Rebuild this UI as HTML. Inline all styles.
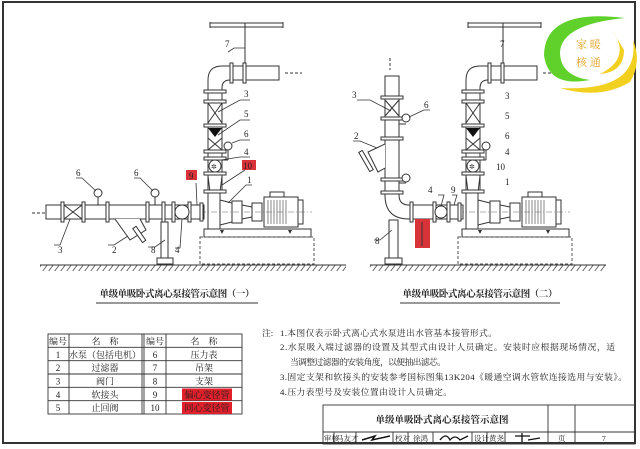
<!DOCTYPE html>
<html><head><meta charset="utf-8"><style>
html,body{margin:0;padding:0;background:#fff}
svg{display:block}
text{font-family:"Liberation Serif","Noto Serif CJK SC","Noto Sans CJK SC",serif;fill:#222}
</style></head><body>
<svg width="640" height="449" viewBox="0 0 640 449" xmlns="http://www.w3.org/2000/svg">
<defs>
<pattern id="h" width="6" height="8" patternUnits="userSpaceOnUse"><line x1="6" y1="0" x2="0" y2="8" stroke="#444" stroke-width="0.8"/></pattern>
<g id="vs">
 <line x1="210" y1="23" x2="283" y2="23" stroke="#333" stroke-width="1"/>
 <line x1="210" y1="27" x2="283" y2="27" stroke="#333" stroke-width="1"/>
 <line x1="210" y1="22" x2="210" y2="28" stroke="#333"/><line x1="283" y1="22" x2="283" y2="28" stroke="#333"/>
 <line x1="245" y1="23" x2="245" y2="78" stroke="#333" stroke-width="1"/>
 <path d="M208 92 L208 80 Q208 66 222 66 L279 66 L279 80 L230 80 Q222 80 222 88 L222 92" fill="#fff" stroke="#333" stroke-width="1"/>
 <rect x="230" y="63" width="3" height="20" fill="#fff" stroke="#333"/>
 <rect x="243" y="63" width="3" height="20" fill="#fff" stroke="#333"/>
 <line x1="285" y1="73" x2="302" y2="73" stroke="#333" stroke-dasharray="3,2"/>
 <rect x="208" y="92" width="14" height="100" fill="#fff" stroke="#333"/>
 <rect x="204" y="90" width="22" height="3" fill="#fff" stroke="#333"/>
 <rect x="204" y="100" width="22" height="3" fill="#fff" stroke="#333"/>
 <path d="M208 103 L222 123 M222 103 L208 123" stroke="#333" fill="none"/>
 <rect x="204" y="124" width="22" height="3" fill="#fff" stroke="#333"/>
 <path d="M208 128 L222 128 L215 137 Z" fill="#111"/>
 <path d="M208 138 L222 150 M222 138 L208 150" stroke="#333"/>
 <rect x="204" y="150" width="22" height="3" fill="#fff" stroke="#333"/>
 <rect x="204" y="157" width="22" height="3" fill="#fff" stroke="#333"/>
 <circle cx="215" cy="166" r="6" fill="#fff" stroke="#333"/>
 <text x="211" y="169" font-size="7">✲</text>
 <rect x="204" y="172" width="22" height="3" fill="#fff" stroke="#333"/>
 <path d="M208 176 L210 192 L220 192 L222 176" fill="#fff" stroke="#333"/>
 <rect x="204" y="190" width="22" height="3" fill="#fff" stroke="#333"/>
 <line x1="222" y1="160" x2="228" y2="160" stroke="#333"/><line x1="228" y1="160" x2="228" y2="150" stroke="#333"/>
 <circle cx="228" cy="146" r="4" fill="#fff" stroke="#333"/>
 <rect x="208" y="193" width="12" height="37" fill="#fff" stroke="#333"/>
 <path d="M220 200 L232 203 L232 222 L220 225 Z" fill="#fff" stroke="#333"/>
 <rect x="232" y="201" width="10" height="22" fill="#fff" stroke="#333"/>
 <path d="M242 205 L252 207 L252 217 L242 219 Z" fill="#fff" stroke="#333"/>
 <rect x="252" y="203" width="10" height="18" fill="#fff" stroke="#333"/>
 <rect x="264" y="197" width="34" height="30" fill="#fff" stroke="#333"/>
 <g stroke="#555" stroke-width="0.7">
 <line x1="268" y1="200" x2="268" y2="224"/><line x1="271" y1="200" x2="271" y2="224"/><line x1="274" y1="200" x2="274" y2="224"/><line x1="277" y1="200" x2="277" y2="224"/><line x1="280" y1="200" x2="280" y2="224"/><line x1="283" y1="200" x2="283" y2="224"/><line x1="286" y1="200" x2="286" y2="224"/></g>
 <rect x="270" y="192" width="14" height="5" fill="#fff" stroke="#333"/>
 <rect x="298" y="200" width="5" height="24" fill="#fff" stroke="#333"/>
 <line x1="200" y1="212" x2="312" y2="212" stroke="#666" stroke-dasharray="6,2,1,2" stroke-width="0.6"/>
 <rect x="204" y="229" width="107" height="8" fill="#fff" stroke="#333"/>
 <rect x="200" y="237" width="114" height="27" fill="none" stroke="#555" stroke-dasharray="3,2"/>
 <path d="M222 234 l-2 -4 l4 0 Z M290 234 l-2 -4 l4 0 Z" fill="#333"/>
</g>
</defs>
<rect x="3" y="2" width="632" height="441" fill="#fff" stroke="#333" stroke-width="2"/>

<rect x="40" y="265" width="280" height="6" fill="url(#h)"/>
<line x1="40" y1="265" x2="320" y2="265" stroke="#333"/>
<rect x="320" y="265" width="26" height="6" fill="url(#h)"/>
<line x1="320" y1="265" x2="346" y2="265" stroke="#333"/>
<rect x="370" y="265" width="236" height="6" fill="url(#h)"/>
<line x1="370" y1="265" x2="606" y2="265" stroke="#333"/>

<use href="#vs"/>
<line x1="32" y1="213" x2="45" y2="213" stroke="#333" stroke-dasharray="3,2"/>
<rect x="46" y="205" width="158" height="14" fill="#fff" stroke="#333"/>
<g fill="#fff" stroke="#333">
<rect x="61" y="202" width="3" height="20"/><rect x="82" y="202" width="3" height="20"/>
<rect x="106" y="202" width="3" height="20"/><rect x="146" y="202" width="3" height="20"/>
<rect x="162" y="202" width="3" height="20"/><rect x="172" y="202" width="3" height="20"/>
<rect x="188" y="202" width="3" height="20"/><rect x="200" y="203" width="3" height="18"/>
</g>
<path d="M64 205 L82 219 M82 205 L64 219" stroke="#333"/>
<circle cx="182" cy="212" r="7" fill="#fff" stroke="#333"/>
<path d="M115 219 L130 240 L146 230 L140 219" fill="#fff" stroke="#333"/>
<rect x="137" y="226" width="4" height="17" transform="rotate(-35 139 234)" fill="#fff" stroke="#333"/>
<line x1="98" y1="205" x2="98" y2="197" stroke="#333"/><circle cx="98" cy="193" r="4" fill="#fff" stroke="#333"/>
<line x1="155" y1="205" x2="155" y2="197" stroke="#333"/><circle cx="155" cy="193" r="4" fill="#fff" stroke="#333"/>
<rect x="161" y="222" width="7" height="38" fill="#fff" stroke="#333"/>
<rect x="157" y="258" width="16" height="6" fill="#fff" stroke="#333"/>
<g stroke="#333" stroke-width="0.8" fill="none">
<path d="M70 219 L60 245 L54 245"/><path d="M128 236 L114 245 L108 245"/>
<path d="M165 240 L155 247 L148 247"/><path d="M182 219 L180 248 L175 248"/>
<path d="M96 191 L82 178 L76 178"/><path d="M153 191 L140 178 L134 178"/>
<path d="M197 205 L196 183"/><path d="M222 185 L245 170"/>
<path d="M228 203 L246 185 L252 185"/>
<path d="M245 48 L234 48 L228 52"/>
<path d="M218 112 L240 100 L250 100"/><path d="M218 135 L240 120 L250 120"/>
<path d="M232 143 L240 140 L250 140"/><path d="M221 160 L240 157 L250 157"/>
</g>
<g font-size="9">
<text x="58" y="253">3</text><text x="112" y="253">2</text><text x="151" y="253">8</text><text x="175" y="253">4</text>
<text x="76" y="176">6</text><text x="134" y="176">6</text>
<text x="247" y="183">1</text><text x="225" y="47">7</text>
<text x="244" y="97">3</text><text x="244" y="117">5</text><text x="244" y="137">6</text><text x="244" y="155">4</text>
</g>
<rect x="186" y="170" width="11" height="10" fill="#d9333a"/><text x="189" y="179" font-size="9">9</text>
<rect x="242" y="160" width="14" height="10" fill="#d9333a"/><text x="243" y="169" font-size="9">10</text>
<text x="177" y="297" font-size="9.5" font-weight="bold" text-anchor="middle" textLength="155" font-family="Liberation Sans,Noto Sans CJK SC,sans-serif">单级单吸卧式离心泵接管示意图（一）</text>
<line x1="96" y1="303" x2="258" y2="303" stroke="#333"/>

<g transform="translate(258,0)"><use href="#vs"/></g>
<line x1="390" y1="58" x2="390" y2="70" stroke="#333" stroke-dasharray="3,2"/>
<path d="M385 76 L385 195 Q385 219 409 219 L463 219 L463 205 L409 205 Q399 205 399 195 L399 76 Z" fill="#fff" stroke="#333"/>
<g fill="#fff" stroke="#333">
<rect x="381" y="96" width="22" height="3"/><rect x="381" y="117" width="22" height="3"/>
<rect x="381" y="137" width="22" height="3"/><rect x="381" y="178" width="22" height="3"/>
<rect x="381" y="191" width="22" height="3"/>
<rect x="410" y="202" width="3" height="20"/><rect x="433" y="202" width="3" height="20"/>
<rect x="447" y="202" width="3" height="20"/><rect x="458" y="203" width="3" height="18"/>
</g>
<path d="M385 100 L399 116 M399 100 L385 116" stroke="#333"/>
<circle cx="441" cy="212" r="6" fill="#fff" stroke="#333"/>
<path d="M385 144 L368 152 L378 172 L385 168" fill="#fff" stroke="#333"/>
<rect x="364" y="150" width="4" height="22" transform="rotate(-30 366 161)" fill="#fff" stroke="#333"/>
<line x1="399" y1="124" x2="406" y2="124" stroke="#333"/><circle cx="406" cy="118" r="4" fill="#fff" stroke="#333"/>
<line x1="399" y1="183" x2="406" y2="183" stroke="#333"/><circle cx="406" cy="178" r="4" fill="#fff" stroke="#333"/>
<rect x="389" y="220" width="9" height="39" fill="#fff" stroke="#333"/>
<rect x="385" y="258" width="17" height="6" fill="#fff" stroke="#333"/>
<rect x="415" y="219" width="15" height="29" fill="#d9333a"/>
<line x1="422" y1="222" x2="422" y2="246" stroke="#333"/>
<g stroke="#333" stroke-width="0.8" fill="none">
<path d="M391 111 L370 100 L357 100"/><path d="M377 148 L360 141 L353 141"/>
<path d="M409 117 L424 110 L430 110"/><path d="M392 230 L380 240 L374 240"/>
<path d="M441 206 L444 195 L438 195"/><path d="M454 205 L457 195 L452 195"/>
</g>
<g font-size="9">
<text x="352" y="98">3</text><text x="354" y="139">2</text><text x="424" y="108">6</text>
<text x="375" y="244">8</text><text x="428" y="193">4</text><text x="451" y="193">9</text>
<text x="500" y="47">7</text><text x="505" y="99">3</text><text x="505" y="119">5</text><text x="505" y="139">6</text><text x="505" y="155">4</text><text x="496" y="170">10</text><text x="505" y="185">1</text>
</g>
<text x="480" y="297" font-size="9.5" font-weight="bold" text-anchor="middle" textLength="155" font-family="Liberation Sans,Noto Sans CJK SC,sans-serif">单级单吸卧式离心泵接管示意图（二）</text>
<line x1="400" y1="303" x2="560" y2="303" stroke="#333"/>

<!-- LOGO -->
<path d="M625 18 Q545 8 544 55 Q548 88 590 80 Q560 76 560 52 Q562 24 625 18 Z" fill="#5fd12a"/>
<path d="M633 40 Q640 92 560 88 Q600 100 630 82 Q642 62 633 40 Z" fill="#f2d020"/>
<path d="M612 30 Q632 58 600 74 Q624 72 624 50 Z" fill="#f2d020"/>
<text x="576" y="48" font-size="11" style="fill:#e0a020">家 暖</text>
<text x="576" y="66" font-size="11" style="fill:#e0a020">核 通</text>

<!-- TABLE -->
<g stroke="#333" stroke-width="0.9" fill="none">
<rect x="48" y="334" width="194" height="80"/>
<line x1="48" y1="347.3" x2="242" y2="347.3"/><line x1="48" y1="360.7" x2="242" y2="360.7"/>
<line x1="48" y1="374" x2="242" y2="374"/><line x1="48" y1="387.3" x2="242" y2="387.3"/>
<line x1="48" y1="400.7" x2="242" y2="400.7"/>
<line x1="69" y1="334" x2="69" y2="414"/><line x1="142" y1="334" x2="142" y2="414"/><line x1="144" y1="334" x2="144" y2="414"/>
<line x1="166" y1="334" x2="166" y2="414"/>
</g>
<rect x="182" y="388.5" width="50" height="12" fill="#e0202a"/><rect x="182" y="402" width="50" height="12" fill="#e0202a"/>
<g font-size="9" text-anchor="middle">
<text x="58" y="344.5">编号</text><text x="105" y="344.5">名　称</text><text x="155" y="344.5">编号</text><text x="204" y="344.5">名　称</text>
<text x="58" y="358">1</text><text x="105" y="358">水泵（包括电机）</text><text x="155" y="358">6</text><text x="204" y="358">压力表</text>
<text x="58" y="371">2</text><text x="105" y="371">过滤器</text><text x="155" y="371">7</text><text x="204" y="371">吊架</text>
<text x="58" y="384.5">3</text><text x="105" y="384.5">阀门</text><text x="155" y="384.5">8</text><text x="204" y="384.5">支架</text>
<text x="58" y="398">4</text><text x="105" y="398">软接头</text><text x="155" y="398">9</text><text x="207" y="398">偏心变径管</text>
<text x="58" y="411">5</text><text x="105" y="411">止回阀</text><text x="155" y="411">10</text><text x="207" y="411">同心变径管</text>
</g>

<!-- NOTES -->
<g font-size="8.8">
<text x="262" y="336">注:</text>
<text x="280" y="336" textLength="217">1.本图仅表示卧式离心式水泵进出水管基本接管形式。</text>
<text x="280" y="350" textLength="335">2.水泵吸入端过滤器的设置及其型式由设计人员确定。安装时应根据现场情况，适</text>
<text x="290" y="365" textLength="156">当调整过滤器的安装角度，以便抽出滤芯。</text>
<text x="280" y="380" textLength="347">3.固定支架和软接头的安装参考国标图集13K204《暖通空调水管软连接选用与安装》。</text>
<text x="280" y="395" textLength="172">4.压力表型号及安装位置由设计人员确定。</text>
</g>

<!-- TITLE BLOCK -->
<g stroke="#333" stroke-width="0.9" fill="none">
<rect x="323" y="405" width="312" height="39"/>
<line x1="323" y1="432" x2="635" y2="432"/>
<line x1="548" y1="405" x2="548" y2="444"/><line x1="575" y1="405" x2="575" y2="444"/>
<line x1="334" y1="432" x2="334" y2="444"/><line x1="356" y1="432" x2="356" y2="444"/>
<line x1="393" y1="432" x2="393" y2="444"/><line x1="408" y1="432" x2="408" y2="444"/>
<line x1="433" y1="432" x2="433" y2="444"/><line x1="472" y1="432" x2="472" y2="444"/>
<line x1="487" y1="432" x2="487" y2="444"/><line x1="505" y1="432" x2="505" y2="444"/>
</g>
<text x="442" y="423" font-size="9.5" font-weight="bold" text-anchor="middle" font-family="Liberation Sans,Noto Sans CJK SC,sans-serif">单级单吸卧式离心泵接管示意图</text>
<g font-size="7.5">
<text x="324" y="441">审核</text><text x="336" y="441">马友才</text>
<path d="M362 440 L375 436 L372 440 L390 436" stroke="#111" stroke-width="1.5" fill="none"/>
<text x="395" y="441">校对</text><text x="413" y="441">徐鸿</text>
<path d="M440 440 Q446 432 450 440 Q455 434 460 440 L468 436" stroke="#111" stroke-width="1.3" fill="none"/>
<text x="474" y="441">设计</text><text x="489" y="441">黄尧</text>
<path d="M515 436 L530 436 M522 433 L522 442 M528 440 L540 438" stroke="#111" stroke-width="1.3" fill="none"/>
<text x="558" y="441">页</text><text x="602" y="441">7</text>
</g>
</svg>
</body></html>
